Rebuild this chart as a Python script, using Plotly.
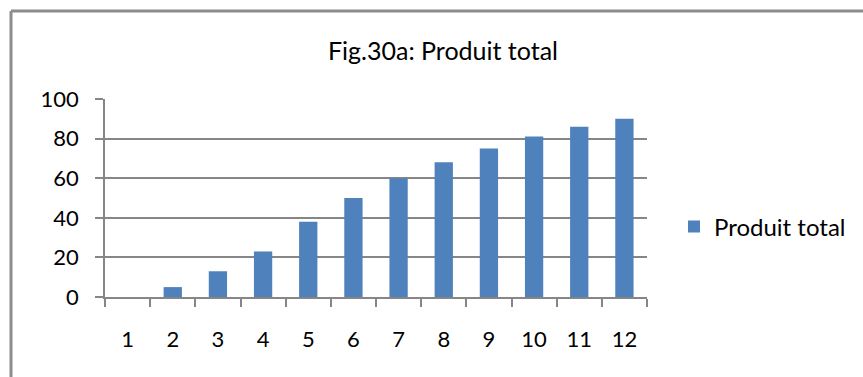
import plotly.graph_objects as go

# Production totale par unité de facteur variable
categories = ["1", "2", "3", "4", "5", "6", "7", "8", "9", "10", "11", "12"]
produit_total = [0, 5, 13, 23, 38, 50, 60, 68, 75, 81, 86, 90]
y_ticks = [0, 20, 40, 60, 80, 100]
series_name = "Produit total"
title_text = "Fig.30a: Produit total"

W, H = 863, 377
L, R, T, B = 105, 647, 99, 297  # plot area in pixels
grid = "#868686"
bar_color = "#4F81BD"
font_family = "Lato, 'Open Sans', sans-serif"

fig = go.Figure(
    go.Bar(
        x=categories,
        y=produit_total,
        name=series_name,
        marker=dict(color=bar_color, line=dict(width=0)),
        showlegend=True,
    )
)

# frame around the chart (left and top edges visible)
def px_x(p):
    return (p - L) / (R - L)

def px_y(p):
    return (B - p) / (B - T)

frame = dict(color="#8c8c8c", width=3)
fig.add_shape(type="line", xref="paper", yref="paper",
              x0=px_x(11), x1=px_x(11), y0=px_y(11), y1=px_y(400), line=frame)
fig.add_shape(type="line", xref="paper", yref="paper",
              x0=px_x(11), x1=px_x(900), y0=px_y(11), y1=px_y(11), line=frame)

fig.update_layout(
    width=W,
    height=H,
    margin=dict(l=L, r=W - R, t=T, b=H - B, pad=0),
    paper_bgcolor="white",
    plot_bgcolor="white",
    font=dict(family=font_family, size=20, color="#000000"),
    bargap=0.595,
    title=dict(
        text=title_text,
        xref="container", x=443 / W, xanchor="center",
        yref="container", y=1 - 51 / H, yanchor="middle",
        font=dict(size=25, family=font_family, color="#000000"),
    ),
    legend=dict(
        xref="container", yref="container",
        x=674 / W, y=1 - 227 / H, xanchor="left", yanchor="middle",
        font=dict(size=24, family=font_family, color="#000000"),
        bgcolor="rgba(0,0,0,0)", borderwidth=0,
    ),
    xaxis=dict(
        type="category",
        showline=True, linecolor=grid, linewidth=1.5,
        ticks="outside", tickson="boundaries", ticklen=8, tickcolor=grid, tickwidth=1.5,
        showgrid=False,
        tickfont=dict(size=22),
        ticklabelstandoff=22,
    ),
    yaxis=dict(
        range=[0, 100],
        tickvals=y_ticks,
        showline=True, linecolor=grid, linewidth=1.5,
        ticks="outside", ticklen=8, tickcolor=grid, tickwidth=1.5,
        showgrid=True, gridcolor=grid, gridwidth=1.5,
        zeroline=False,
        tickfont=dict(size=22),
        ticklabelstandoff=12,
    ),
)

fig.write_html("out.html")
